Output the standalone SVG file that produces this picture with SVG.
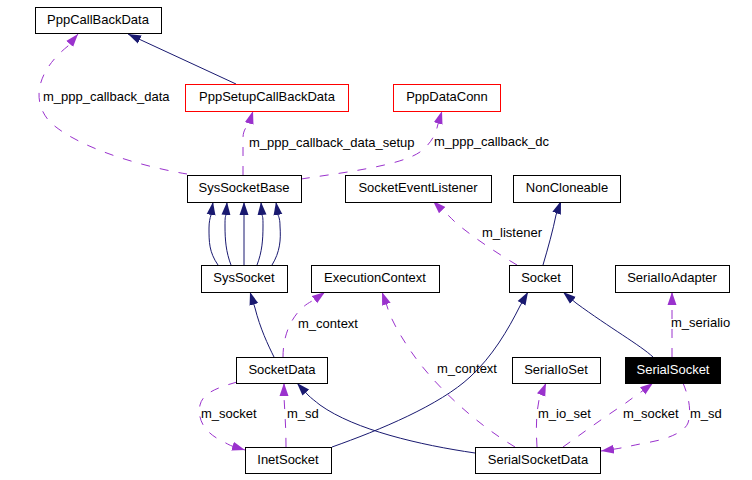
<svg xmlns="http://www.w3.org/2000/svg" width="752" height="480" viewBox="0 0 752 480">
<style>
.box{fill:#fff;stroke:#000;stroke-width:1}
.red{fill:#fff;stroke:#ff0000;stroke-width:1}
.blk{fill:#000;stroke:#000;stroke-width:1}
text{font-family:"Liberation Sans",Arial,sans-serif;font-size:13px;fill:#000}
.nt{text-anchor:middle}
.wt{fill:#fff}
.inh{fill:none;stroke:#191970;stroke-width:1;marker-end:url(#an)}
.use{fill:none;stroke:#9a32cd;stroke-width:1;stroke-dasharray:9,10;marker-end:url(#ap)}
</style>
<defs>
<marker id="an" markerUnits="userSpaceOnUse" markerWidth="14" markerHeight="10" viewBox="0 0 14 10" refX="13" refY="5" orient="auto"><path d="M0,0.5 L13,5 L0,9.5 z" fill="#191970"/></marker>
<marker id="ap" markerUnits="userSpaceOnUse" markerWidth="14" markerHeight="10" viewBox="0 0 14 10" refX="13" refY="5" orient="auto"><path d="M0,0.5 L13,5 L0,9.5 z" fill="#9a32cd"/></marker>
</defs>
<rect width="752" height="480" fill="#fff"/>
<g id="connectors">
<path class="inh" d="M236,84 L128,34"/>
<path class="use" d="M187,174 C150,168 80,150 50,122 C30,100 38,70 68,46 L78,34"/>
<path class="use" d="M243,175 L243,138 C243,131 246,127 249,124 L253,111"/>
<path class="use" d="M301,179 C340,173 400,166 420,152 C432,143 436,133 438,124 L442,111"/>
<path class="inh" d="M218,265 C209,252 209,242 209,228 C209,222 210,218 211,215 L213,202"/>
<path class="inh" d="M231,265 C226,252 225,240 225,226 C225,220 225,217 226,215 L227,202"/>
<path class="inh" d="M244,265 L244,202"/>
<path class="inh" d="M257,265 C262,252 263,240 263,226 C263,220 263,217 262,215 L261,202"/>
<path class="inh" d="M272,265 C280,252 281,240 280,226 C280,220 279,217 278,215 L276,202"/>
<path class="inh" d="M274,357 C268,345 260,328 255,308 L250,292"/>
<path class="use" d="M283,357 C283,340 288,322 301,309 C304,306 308,303 314,300 L325,292"/>
<path class="use" d="M515,447 C470,420 430,380 410,350 C400,335 391,320 387,306 L382,292"/>
<path class="use" d="M517,265 C495,252 470,235 455,222 C450,217 446,213 442,210 L433,201"/>
<path class="inh" d="M543,265 C548,248 553,230 556,215 L561,201"/>
<path class="inh" d="M332,447 C380,430 440,405 470,377 C492,357 508,330 520,306 L528,292"/>
<path class="inh" d="M653,357 C640,345 610,328 576,303 L563,292"/>
<path class="use" d="M672,357 L672,292"/>
<path class="use" d="M537,447 C536,430 536,415 539,400 L546,383"/>
<path class="use" d="M563,447 C580,435 600,420 623,405 C630,400 635,396 641,392 L653,383"/>
<path class="use" d="M683,383 C688,395 692,410 688,423 C684,433 665,440 645,443 C630,446 622,448 615,449 L601,451"/>
<path class="inh" d="M475,453 C420,445 355,430 320,405 C315,401 311,398 308,395 L297,383"/>
<path class="use" d="M237,382 C220,387 203,392 200,405 C197,420 205,432 220,440 C226,443 229,445 232,446 L245,450"/>
<path class="use" d="M286,447 C286,430 285,415 284,397 L284,383"/>
</g>
<g id="labels">
<text x="43" y="101">m_ppp_callback_data</text>
<text x="249" y="147">m_ppp_callback_data_setup</text>
<text x="434" y="146">m_ppp_callback_dc</text>
<text x="482" y="237">m_listener</text>
<text x="298" y="328">m_context</text>
<text x="437" y="373">m_context</text>
<text x="671" y="327">m_serialio</text>
<text x="201" y="418">m_socket</text>
<text x="287" y="418">m_sd</text>
<text x="538" y="418">m_io_set</text>
<text x="623" y="418">m_socket</text>
<text x="690" y="418">m_sd</text>
</g>
<g id="PppCallBackData"><rect class="box" x="35.5" y="7.5" width="126" height="26"/><text class="nt" x="98" y="24">PppCallBackData</text></g>
<g id="PppSetupCallBackData"><rect class="red" x="185.5" y="84.5" width="163" height="27"/><text class="nt" x="267" y="101">PppSetupCallBackData</text></g>
<g id="PppDataConn"><rect class="red" x="393.5" y="84.5" width="107" height="27"/><text class="nt" x="447" y="101">PppDataConn</text></g>
<g id="SysSocketBase"><rect class="box" x="187.5" y="175.5" width="114" height="27"/><text class="nt" x="244" y="192">SysSocketBase</text></g>
<g id="SocketEventListener"><rect class="box" x="345.5" y="175.5" width="146" height="27"/><text class="nt" x="418" y="192">SocketEventListener</text></g>
<g id="NonCloneable"><rect class="box" x="513.5" y="175.5" width="107" height="27"/><text class="nt" x="567" y="192">NonCloneable</text></g>
<g id="SysSocket"><rect class="box" x="201.5" y="265.5" width="86" height="27"/><text class="nt" x="244" y="282">SysSocket</text></g>
<g id="ExecutionContext"><rect class="box" x="311.5" y="265.5" width="128" height="27"/><text class="nt" x="375" y="282">ExecutionContext</text></g>
<g id="Socket"><rect class="box" x="509.5" y="265.5" width="63" height="27"/><text class="nt" x="541" y="282">Socket</text></g>
<g id="SerialIoAdapter"><rect class="box" x="615.5" y="265.5" width="114" height="27"/><text class="nt" x="672" y="282">SerialIoAdapter</text></g>
<g id="SocketData"><rect class="box" x="236.5" y="357.5" width="91" height="26"/><text class="nt" x="282" y="374">SocketData</text></g>
<g id="SerialIoSet"><rect class="box" x="512.5" y="357.5" width="88" height="26"/><text class="nt" x="556" y="374">SerialIoSet</text></g>
<g id="SerialSocket"><rect class="blk" x="625.5" y="357.5" width="95" height="26"/><text class="nt wt" x="673" y="374">SerialSocket</text></g>
<g id="InetSocket"><rect class="box" x="245.5" y="447.5" width="86" height="26"/><text class="nt" x="288" y="464">InetSocket</text></g>
<g id="SerialSocketData"><rect class="box" x="475.5" y="447.5" width="125" height="26"/><text class="nt" x="538" y="464">SerialSocketData</text></g>
</svg>
